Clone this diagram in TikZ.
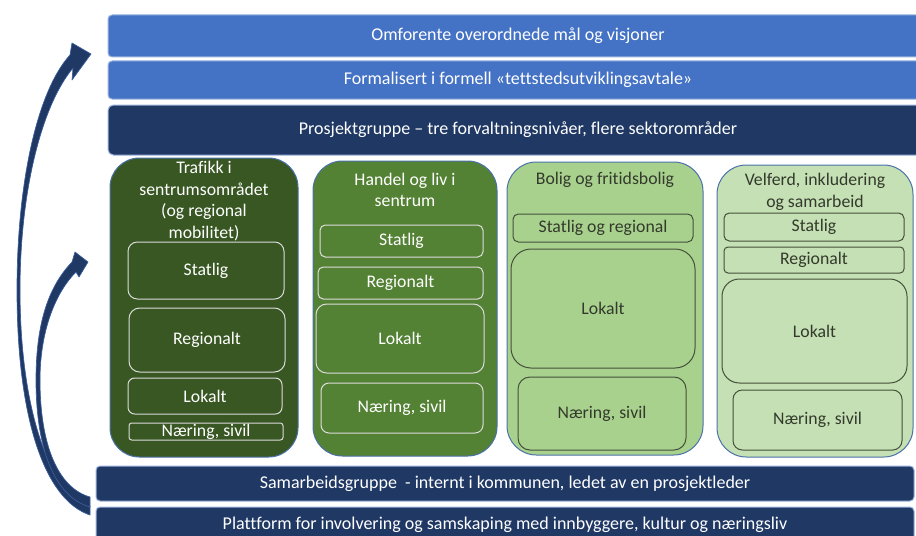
\documentclass[tikz,border=0pt]{standalone}
\usepackage{fontspec}
\setmainfont[Ligatures=NoCommon]{Carlito}
\definecolor{barblue}{HTML}{4472C4}
\definecolor{barline}{HTML}{9DB4DF}
\definecolor{navy}{HTML}{203864}
\definecolor{arrowline}{HTML}{3A5E9E}
\definecolor{gA}{HTML}{385723}
\definecolor{gB}{HTML}{548235}
\definecolor{gC}{HTML}{A9D18E}
\definecolor{gD}{HTML}{C5E0B4}
\definecolor{colline}{HTML}{4A72A8}
\definecolor{darkline}{HTML}{44513A}
\definecolor{lightline}{HTML}{DCDCDC}
\definecolor{txtdark}{HTML}{333A2C}
\newcommand\bx[8]{\node[#1, rounded corners=#8, minimum width={(#5-#3)*0.75pt}, minimum height={(#6-#4)*0.75pt}] (#2) at ({(#3+#5)/2},{(#4+#6)/2}) {#7};}
\tikzset{
  base/.style={rectangle, inner sep=0pt, outer sep=0pt, align=center, line width=0.75pt},
  bigfont/.style={font=\fontsize{13.5}{15}\selectfont},
  smallfont/.style={font=\fontsize{13.3}{16.2}\selectfont},
  topbar/.style={base, bigfont, fill=barblue, draw=barline, text=white},
  navybar/.style={base, bigfont, fill=navy, draw=barline, text=white},
  colA/.style={base, fill=gA, draw=colline},
  colB/.style={base, fill=gB, draw=colline},
  colC/.style={base, fill=gC, draw=colline},
  colD/.style={base, fill=gD, draw=colline},
  inL/.style={base, smallfont, draw=lightline, text=white},
  inD/.style={base, smallfont, draw=darkline, text=txtdark},
  ttlL/.style={inner sep=0pt, align=center, smallfont, text=white},
  ttlD/.style={inner sep=0pt, align=center, smallfont, text=txtdark},
  arrowshape/.style={fill=navy, draw=arrowline, line width=0.5pt, line join=round}
}
\begin{document}
\begin{tikzpicture}[x=0.75pt,y=-0.75pt]
\clip (0,0) rectangle (916,535);
\fill[white] (0,0) rectangle (916,535);
% curved arrows
\path[arrowshape] (90,515) .. controls (45,500) and (17,420) .. (17,290)
  .. controls (17,180) and (38,90) .. (70,55) -- (72,43) -- (91,54) -- (72,80) -- (73,68)
  .. controls (42,105) and (20,190) .. (20,290)
  .. controls (20,410) and (50,494) .. (90,506) -- cycle;
\path[arrowshape] (90,507) .. controls (55,497) and (36,450) .. (36,380)
  .. controls (36,320) and (50,285) .. (72,262) -- (75,252) -- (88,262) -- (79,277) -- (76,272)
  .. controls (56,292) and (40,330) .. (40,380)
  .. controls (40,445) and (58,488) .. (90,497) -- cycle;
% bars
\bx{topbar}{b1}{108}{15}{928}{57}{Omforente overordnede mål og visjoner}{3pt}
\bx{topbar}{b2}{108}{61}{928}{99}{Formalisert i formell «tettstedsutviklingsavtale»}{3pt}
\bx{navybar}{b3}{108}{105}{928}{155}{Prosjektgruppe – tre forvaltningsnivåer, flere sektorområder}{4pt}
\bx{navybar}{b4}{96}{466}{914}{501}{Samarbeidsgruppe\ \ - internt i kommunen, ledet av en prosjektleder}{3pt}
\bx{navybar}{b5}{96}{507}{914}{543}{Plattform for involvering og samskaping med innbyggere, kultur og næringsliv}{3pt}
% columns
\bx{colA}{c1}{110}{158}{298}{457}{}{22pt}
\bx{colB}{c2}{313}{161}{497}{456}{}{22pt}
\bx{colC}{c3}{507}{162}{703}{455}{}{22pt}
\bx{colD}{c4}{717}{165}{913}{457}{}{22pt}
% titles
\node[ttlL] (t1) at (204,201) {Trafikk i\\sentrumsområdet\\(og regional\\mobilitet)};
\node[ttlL] (t2) at (405,190) {Handel og liv i\\sentrum};
\node[ttlD] (t3) at (605,180) {Bolig og fritidsbolig};
\node[ttlD] (t4) at (815,192) {Velferd, inkludering\\og samarbeid};
% column 1
\bx{inL}{a1}{128}{242}{284}{299}{Statlig}{7pt}
\bx{inL}{a2}{129}{308}{285}{372}{Regionalt}{8pt}
\bx{inL}{a3}{128}{378}{282}{414}{Lokalt}{5pt}
\bx{inL}{a4}{129}{423}{283}{440}{Næring, sivil}{2pt}
% column 2
\bx{inL}{e1}{320}{225}{483}{257}{Statlig}{4pt}
\bx{inL}{e2}{318}{267}{483}{299}{Regionalt}{4pt}
\bx{inL}{e3}{316}{304}{484}{373}{Lokalt}{8pt}
\bx{inL}{e4}{321}{383}{483}{433}{Næring, sivil}{6pt}
% column 3
\bx{inD}{f1}{513}{214}{693}{242}{Statlig og regional}{4pt}
\bx{inD}{f2}{511}{249}{695}{368}{Lokalt}{15pt}
\bx{inD}{f3}{518}{377}{686}{450}{Næring, sivil}{9pt}
% column 4
\bx{inD}{g1}{724}{213}{904}{241}{Statlig}{4pt}
\bx{inD}{g2}{724}{247}{904}{273}{Regionalt}{3pt}
\bx{inD}{g3}{722}{279}{907}{383}{Lokalt}{13pt}
\bx{inD}{g4}{733}{390}{902}{450}{Næring, sivil}{7pt}
\end{tikzpicture}
\end{document}
